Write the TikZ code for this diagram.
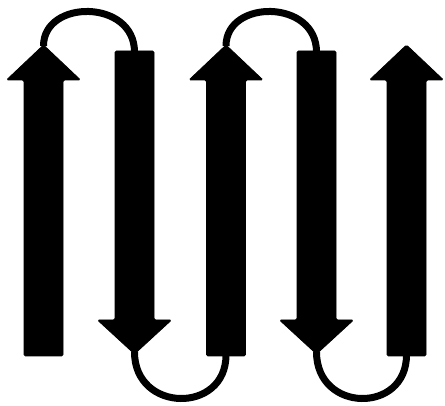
\documentclass[tikz,border=0pt]{standalone}
\begin{document}
\begin{tikzpicture}[x=1pt,y=-1pt,
  strand/.style={fill=black,draw=black,line width=0.8pt,rounded corners=1.5pt},
  loopline/.style={draw=black,line width=7pt}]
\useasboundingbox (0,0) rectangle (445,406);
% up arrows
\foreach \c/\n in {43.5/s1,226/s3,406.5/s5}{
  \fill[strand] (\c-19.5,356) -- (\c+19.5,356) -- (\c+19.5,80) -- (\c+37,80) -- (\c,45) -- (\c-37,80) -- (\c-19.5,80) -- cycle;
  \coordinate (\n tip) at (\c,46);
  \coordinate (\n end) at (\c,355);
}
% down arrows
\foreach \c/\n in {134.5/s2,316.5/s4}{
  \fill[strand] (\c-19.5,51) -- (\c+19.5,51) -- (\c+19.5,320) -- (\c+37,320) -- (\c,354) -- (\c-37,320) -- (\c-19.5,320) -- cycle;
  \coordinate (\n tip) at (\c,352);
  \coordinate (\n end) at (\c,52);
}
% loops
\draw[loopline] (s1tip) .. controls +(0,-47) and +(0,-53) .. (s2end);
\draw[loopline] (s3tip) .. controls +(0,-47) and +(0,-53) .. (s4end);
\draw[loopline] (s2tip) .. controls +(0,61) and +(0,59) .. (s3end);
\draw[loopline] (s4tip) .. controls +(0,61) and +(0,59) .. (s5end);
\end{tikzpicture}
\end{document}
